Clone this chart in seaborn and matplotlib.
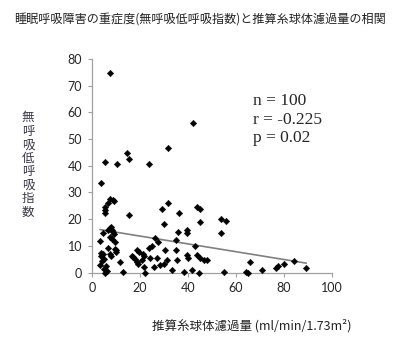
import numpy as np
import pandas as pd
import matplotlib
matplotlib.use("Agg")
import matplotlib.pyplot as plt
import seaborn as sns

# estimated GFR (ml/min/1.73m2) vs AHI
egfr = [7.5, 42.0, 31.7, 14.5, 15.6, 5.4, 10.6, 23.7, 3.6,
        5.4, 5.5, 5.4, 6.8, 7.5, 8.9, 9.3, 15.6, 29.2, 31.6, 36.1, 43.8, 44.9,
        30.1, 44.9, 53.6, 55.9, 53.6, 35.9, 39.6, 39.6,
        7.5, 6.8, 8.2, 7.8, 8.9, 9.3, 4.5, 3.3, 7.5, 8.2, 9.6, 34.8, 26.4, 27.3, 42.8,
        6.6, 9.9, 9.6, 10.2, 3.6, 4.5, 3.8, 5.0, 4.2, 3.5, 5.8, 4.8, 6.2, 5.5, 7.5,
        7.8, 11.7, 12.8,
        18.6, 19.4, 16.6, 17.2, 17.8, 18.6, 19.2, 21.2, 21.5, 20.8, 21.8, 22.2,
        23.6, 25.0, 24.3, 27.1, 25.7, 28.5, 29.8, 30.5, 34.8, 31.2, 35.4, 33.3,
        39.6, 40.0, 38.2, 41.7, 43.8, 44.9, 46.6, 48.0, 44.5,
        54.9, 64.0, 65.1, 65.9, 71.0, 76.5, 77.4, 80.1, 84.0, 89.3]
ahi = [74.6, 55.9, 46.6, 44.9, 42.6, 41.3, 40.5, 40.5, 33.6,
       24.6, 23.4, 22.2, 26.2, 27.5, 27.3, 27.0, 21.5, 23.8, 25.9, 22.2, 24.6, 23.8,
       18.2, 18.8, 19.9, 19.4, 14.9, 15.3, 15.9, 14.7,
       16.8, 15.9, 15.9, 17.2, 15.3, 14.6, 14.7, 11.8, 13.4, 12.6, 11.6, 12.2, 12.8, 11.5, 10.0,
       9.3, 8.4, 8.9, 7.9, 7.5, 7.0, 6.2, 5.0, 4.5, 3.0, 2.5, 1.2, 0.5, 0.0, 7.0,
       6.2, 4.0, 0.3,
       8.4, 7.8, 6.4, 5.8, 5.0, 3.9, 3.3, 7.1, 6.1, 4.7, 2.1, 0.0,
       9.4, 10.0, 5.3, 5.3, 2.2, 2.8, 3.4, 8.4, 8.4, 4.7, 4.7, 0.9,
       6.5, 5.3, 0.3, 0.9, 6.5, 5.3, 4.7, 4.7, 0.0,
       0.3, 0.2, 0.0, 4.0, 0.9, 1.7, 2.5, 3.1, 4.2, 1.9]

x_ticks = [0, 20, 40, 60, 80, 100]
y_ticks = [0, 10, 20, 30, 40, 50, 60, 70, 80]
title = "睡眠呼吸障害の重症度(無呼吸低呼吸指数)と推算糸球体濾過量の相関"
ylab = "無呼吸低呼吸指数"
xlab = "推算糸球体濾過量 (ml/min/1.73m²)"
stats_text = "n = 100\nr = -0.225\np = 0.02"

df = pd.DataFrame({"egfr": egfr, "ahi": ahi})

sns.set_style("ticks")
plt.rcParams["font.family"] = ["Noto Sans CJK JP", "DejaVu Sans"]

fig = plt.figure(figsize=(4, 3.55), dpi=100)
ax = fig.add_axes([0.23, 0.232, 0.60, 0.602])

sns.regplot(data=df, x="egfr", y="ahi", scatter=False, ci=None, ax=ax,
            line_kws={"color": "#808080", "lw": 1.2})
sns.scatterplot(data=df, x="egfr", y="ahi", marker="D", s=11, color="black",
                edgecolor="black", linewidth=0.3, ax=ax, clip_on=False, zorder=3)

ax.set_xlim(0, 100)
ax.set_ylim(0, 80)
ax.set_xticks(x_ticks)
ax.set_yticks(y_ticks)
ax.set_xlabel("")
ax.set_ylabel("")
for lab in ax.get_xticklabels() + ax.get_yticklabels():
    lab.set_family("Lato")
    lab.set_fontsize(9)
ax.tick_params(length=3, width=0.8, color="#a0a0a0", pad=4)
sns.despine(ax=ax)
for sp in ["left", "bottom"]:
    ax.spines[sp].set_color("#a0a0a0")
    ax.spines[sp].set_linewidth(0.9)

fig.text(0.5, 0.945, title, fontsize=8.7, va="center", ha="center", color="#222222")
fig.text(0.07, 0.535, "\n".join(ylab), fontsize=9, ha="center", va="center",
         linespacing=1.05, color="#3a3a4a")
fig.text(0.63, 0.083, xlab, fontsize=9, ha="center", va="center", color="#222222")
ax.text(0.67, 0.84, stats_text, transform=ax.transAxes, fontsize=12.5,
        family="Liberation Serif", va="top", ha="left", linespacing=1.2)

fig.savefig("out.png", dpi=100)
